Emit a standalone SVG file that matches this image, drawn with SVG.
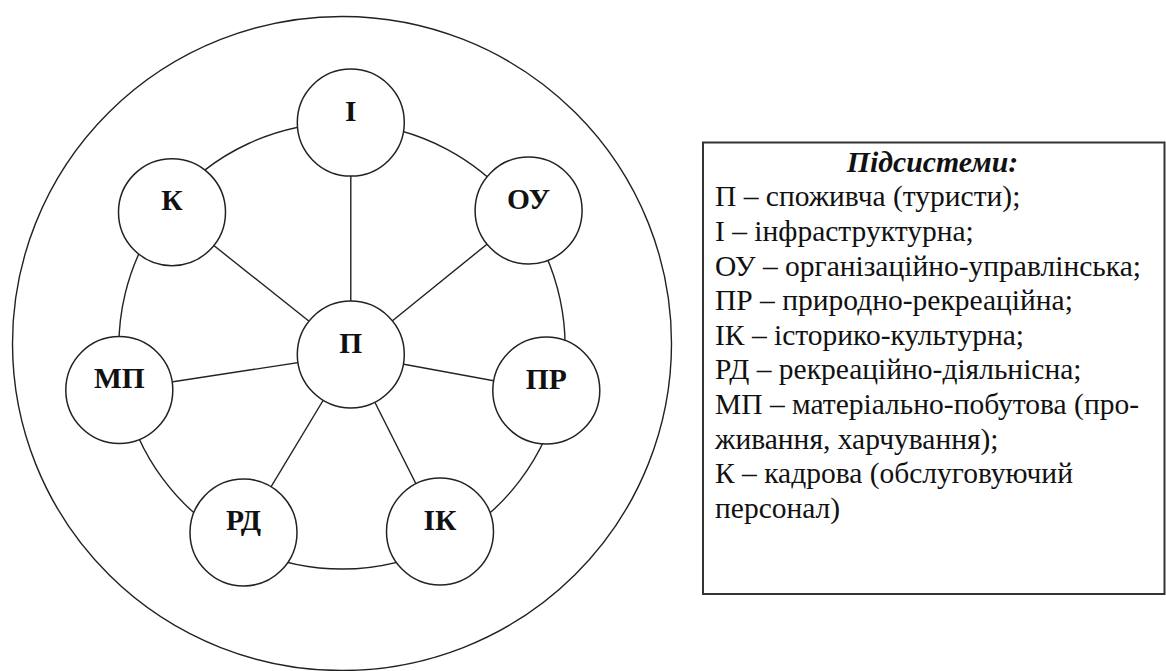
<svg xmlns="http://www.w3.org/2000/svg" width="1166" height="671" viewBox="0 0 1166 671">
<style>
.ln{fill:none;stroke:#222;stroke-width:1.4}
.nd{fill:#fff;stroke:#222;stroke-width:1.5}
.lb{font-family:"Liberation Serif","Times New Roman",serif;font-weight:bold;font-size:29.5px;fill:#111;text-anchor:middle}
.lg{font-family:"Liberation Serif","Times New Roman",serif;font-size:29.5px;fill:#111}
.tt{font-family:"Liberation Serif","Times New Roman",serif;font-size:29.8px;font-weight:bold;font-style:italic;fill:#111;text-anchor:middle}
</style>
<rect width="1166" height="671" fill="#fff"/>
<ellipse id="outer" cx="342" cy="343.5" rx="329.5" ry="327" class="ln"/>
<g id="connectors" class="ln">
<path d="M350.9,123.2 A223,223 0 0 1 522.2,214.6"/>
<path d="M522.2,214.6 A223,223 0 0 1 560.1,392.7"/>
<path d="M560.1,392.7 A223,223 0 0 1 446.0,543.3"/>
<path d="M446.0,543.3 A223,223 0 0 1 238.3,543.4"/>
<path d="M238.3,543.4 A223,223 0 0 1 123.2,389.3"/>
<path d="M123.2,389.3 A223,223 0 0 1 166.7,208.1"/>
<path d="M166.7,208.1 A223,223 0 0 1 350.9,123.2"/>
<line x1="350.8" y1="354.5" x2="350.8" y2="122.6"/>
<line x1="350.8" y1="354.5" x2="172" y2="212.2"/>
<line x1="350.8" y1="354.5" x2="528.6" y2="210.5"/>
<line x1="350.8" y1="354.5" x2="119.3" y2="390"/>
<line x1="350.8" y1="354.5" x2="546.3" y2="390.5"/>
<line x1="350.8" y1="354.5" x2="243.5" y2="532.5"/>
<line x1="350.8" y1="354.5" x2="440" y2="531.5"/>
</g>
<g id="node-I"><circle cx="350.8" cy="122.6" r="53.5" class="nd"/><text x="350.8" y="120.6" class="lb">І</text></g>
<g id="node-K"><circle cx="172" cy="212.2" r="53.5" class="nd"/><text x="172" y="210.2" class="lb">К</text></g>
<g id="node-OU"><circle cx="528.6" cy="210.5" r="53.5" class="nd"/><text x="528.6" y="209" class="lb">ОУ</text></g>
<g id="node-P"><circle cx="350.8" cy="354.5" r="53.5" class="nd"/><text x="350.8" y="352.5" class="lb">П</text></g>
<g id="node-MP"><circle cx="119.3" cy="390" r="53.5" class="nd"/><text x="119.3" y="387.5" class="lb">МП</text></g>
<g id="node-PR"><circle cx="546.3" cy="390.5" r="53.5" class="nd"/><text x="546.3" y="388.5" class="lb">ПР</text></g>
<g id="node-RD"><circle cx="243.5" cy="532.5" r="53.5" class="nd"/><text x="243.5" y="530.3" class="lb">РД</text></g>
<g id="node-IK"><circle cx="440" cy="531.5" r="53.5" class="nd"/><text x="440" y="530" class="lb">ІК</text></g>
<g id="legend">
<rect x="703" y="142.5" width="461.5" height="451.5" fill="#fff" stroke="#333" stroke-width="2"/>
<text x="932.5" y="171.5" class="tt">Підсистеми:</text>
<text x="715" y="206.2" class="lg">П – споживча (туристи);</text>
<text x="715" y="240.8" class="lg">І – інфраструктурна;</text>
<text x="715" y="275.5" class="lg">ОУ – організаційно-управлінська;</text>
<text x="715" y="310.1" class="lg">ПР – природно-рекреаційна;</text>
<text x="715" y="344.8" class="lg">ІК – історико-культурна;</text>
<text x="715" y="379.4" class="lg">РД – рекреаційно-діяльнісна;</text>
<text x="715" y="414" class="lg">МП – матеріально-побутова (про-</text>
<text x="715" y="448.7" class="lg">живання, харчування);</text>
<text x="715" y="483.4" class="lg">К – кадрова (обслуговуючий</text>
<text x="715" y="518" class="lg">персонал)</text>
</g>
</svg>
